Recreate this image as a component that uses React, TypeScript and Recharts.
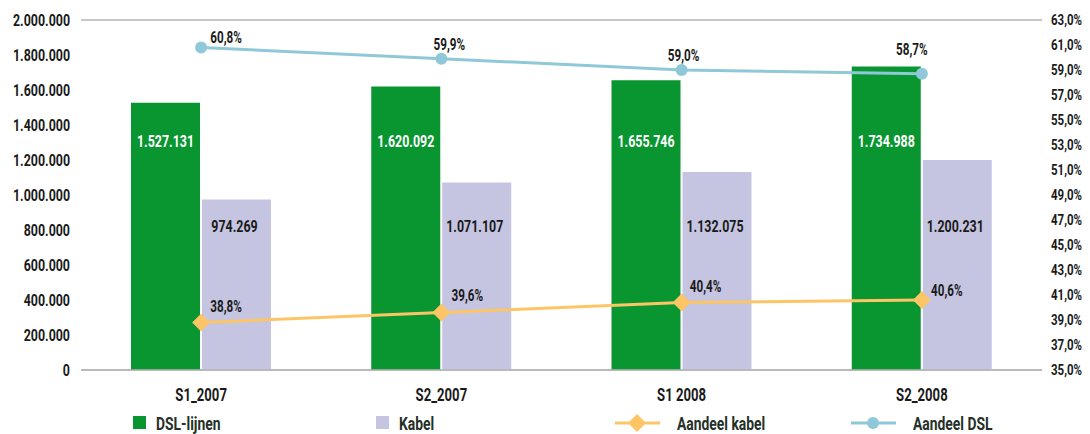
import React from 'react';
import {
  ComposedChart, Bar, Line, XAxis, YAxis, CartesianGrid, Legend, LabelList,
} from 'recharts';

const periods = ['S1_2007', 'S2_2007', 'S1 2008', 'S2_2008'];
const dslLines = [1527131, 1620092, 1655746, 1734988];
const kabel = [974269, 1071107, 1132075, 1200231];
const shareKabel = [38.8, 39.6, 40.4, 40.6];
const shareDsl = [60.8, 59.9, 59.0, 58.7];

const leftTicks = [0, 200000, 400000, 600000, 800000, 1000000, 1200000, 1400000, 1600000, 1800000, 2000000];
const rightTicks = [35, 37, 39, 41, 43, 45, 47, 49, 51, 53, 55, 57, 59, 61, 63];

// label nudges (px) for the percentage labels, as placed in the original
const dslLabelShift = [[25, -10], [8, -14], [2, -15], [-10, -24]];
const kabelLabelShift = [[25, -16], [26, -17], [24, -16], [25, -10]];

const data = periods.map((p, i) => ({
  period: p,
  dsl: dslLines[i],
  kabel: kabel[i],
  shareKabel: shareKabel[i],
  shareDsl: shareDsl[i],
}));

const FONT = 'Roboto, sans-serif';
const SQUEEZE = 0.73;
const GREEN = '#09952f';
const LILAC = '#c5c5e1';
const ORANGE = '#fdc566';
const BLUE = '#8fc8d8';
const INK = '#1a1a1a';

const dots = (n: number) => String(n).replace(/\B(?=(\d{3})+(?!\d))/g, '.');
const pct = (n: number, d = 1) => n.toFixed(d).replace('.', ',') + '%';

// condensed look: regular bold font squeezed horizontally
const CondText = ({ x, y, anchor = 'middle', size = 17, fill = INK, sx = SQUEEZE, dy = '0.35em', children }: any) => (
  <g transform={`translate(${x},${y}) scale(${sx},1)`}>
    <text x={0} y={0} dy={dy} textAnchor={anchor} fill={fill} fontFamily={FONT} fontWeight={700} fontSize={size}>
      {children}
    </text>
  </g>
);

const LeftTick = (props: any) => (
  <CondText x={props.x} y={props.y} anchor="end">{dots(props.payload.value)}</CondText>
);

const RightTick = (props: any) => (
  <CondText x={props.x} y={props.y} anchor="start" size={14} sx={0.82}>{pct(props.payload.value)}</CondText>
);

const BottomTick = (props: any) => (
  <CondText x={props.x} y={props.y} dy="0.71em" size={18}>{props.payload.value}</CondText>
);

const DslLabel = (props: any) => {
  const { x, y, width, height, value } = props;
  return <CondText x={x + width / 2} y={y + height - 229} fill="#fff">{dots(value)}</CondText>;
};

const KabelLabel = (props: any) => {
  const { x, y, width, height, value } = props;
  return <CondText x={x + width / 2 - 2} y={y + height - 144}>{dots(value)}</CondText>;
};

const ShareLabel = (shift: number[][]) => (props: any) => {
  const { x, y, value, index } = props;
  const [dx, dy] = shift[index] || [10, -12];
  return <CondText x={x + dx} y={y + dy} size={16}>{pct(value)}</CondText>;
};

const Diamond = (props: any) => {
  const { cx, cy } = props;
  if (cx == null || cy == null) return null;
  const s = 9;
  return <path d={`M${cx},${cy - s}L${cx + s},${cy}L${cx},${cy + s}L${cx - s},${cy}Z`} fill={ORANGE} />;
};

const legendItems = [
  { label: 'DSL-lijnen', kind: 'box', color: GREEN, width: 243 },
  { label: 'Kabel', kind: 'box', color: LILAC, width: 239 },
  { label: 'Aandeel kabel', kind: 'diamond', color: ORANGE, width: 236 },
  { label: 'Aandeel DSL', kind: 'circle', color: BLUE, width: 200 },
];

const LegendContent = () => (
  <div style={{ display: 'flex', paddingLeft: 133, height: 34, alignItems: 'flex-end', fontFamily: FONT, fontWeight: 700, fontSize: 19, color: '#243028' }}>
    {legendItems.map((it) => (
      <div key={it.label} style={{ width: it.width, display: 'flex', alignItems: 'center', height: 22 }}>
        {it.kind === 'box' ? (
          <svg width={23} height={14}><rect x={0} y={0} width={13} height={13} fill={it.color} /></svg>
        ) : (
          <svg width={62} height={20}>
            <line x1={0} y1={10} x2={45} y2={10} stroke={it.color} strokeWidth={3} />
            {it.kind === 'diamond'
              ? <path d="M22,1L31,10L22,19L13,10Z" fill={it.color} />
              : <circle cx={22} cy={10} r={6} fill={it.color} />}
          </svg>
        )}
        <span style={{ display: 'inline-block', transform: `scaleX(${SQUEEZE})`, transformOrigin: 'left center', whiteSpace: 'nowrap' }}>
          {it.label}
        </span>
      </div>
    ))}
  </div>
);

export default function App() {
  return (
    <div style={{ position: 'absolute', left: 0, top: 0, width: 1090, height: 434, background: '#fff' }}>
      <ComposedChart width={1090} height={434} data={data}
        margin={{ top: 20, right: 0, bottom: 0, left: 0 }} barSize={69} barGap={2}>
        <CartesianGrid vertical={false} stroke="#b5b5b5" strokeWidth={1.5} />
        <XAxis dataKey="period" height={30} axisLine={{ stroke: '#b5b5b5', strokeWidth: 1.5 }} tickLine={false}
          tickMargin={12} tick={<BottomTick />} />
        <YAxis yAxisId="left" orientation="left" width={81} domain={[0, 2000000]} ticks={leftTicks}
          axisLine={false} tickLine={false} tickSize={0} tickMargin={11} tick={<LeftTick />} />
        <YAxis yAxisId="right" orientation="right" width={48} domain={[35, 63]} ticks={rightTicks}
          axisLine={false} tickLine={false} tickSize={0} tickMargin={9} tick={<RightTick />} />
        <Legend verticalAlign="bottom" content={<LegendContent />} wrapperStyle={{ left: 0, width: 1090 }} />
        <Bar yAxisId="left" dataKey="dsl" name="DSL-lijnen" fill={GREEN} isAnimationActive={false}>
          <LabelList dataKey="dsl" content={DslLabel} />
        </Bar>
        <Bar yAxisId="left" dataKey="kabel" name="Kabel" fill={LILAC} isAnimationActive={false}>
          <LabelList dataKey="kabel" content={KabelLabel} />
        </Bar>
        <Line yAxisId="right" dataKey="shareKabel" name="Aandeel kabel" stroke={ORANGE} strokeWidth={3}
          dot={<Diamond />} activeDot={false} isAnimationActive={false}>
          <LabelList dataKey="shareKabel" content={ShareLabel(kabelLabelShift)} />
        </Line>
        <Line yAxisId="right" dataKey="shareDsl" name="Aandeel DSL" stroke={BLUE} strokeWidth={3}
          dot={{ r: 6, fill: BLUE, stroke: BLUE, strokeWidth: 0 }} activeDot={false} isAnimationActive={false}>
          <LabelList dataKey="shareDsl" content={ShareLabel(dslLabelShift)} />
        </Line>
      </ComposedChart>
    </div>
  );
}
